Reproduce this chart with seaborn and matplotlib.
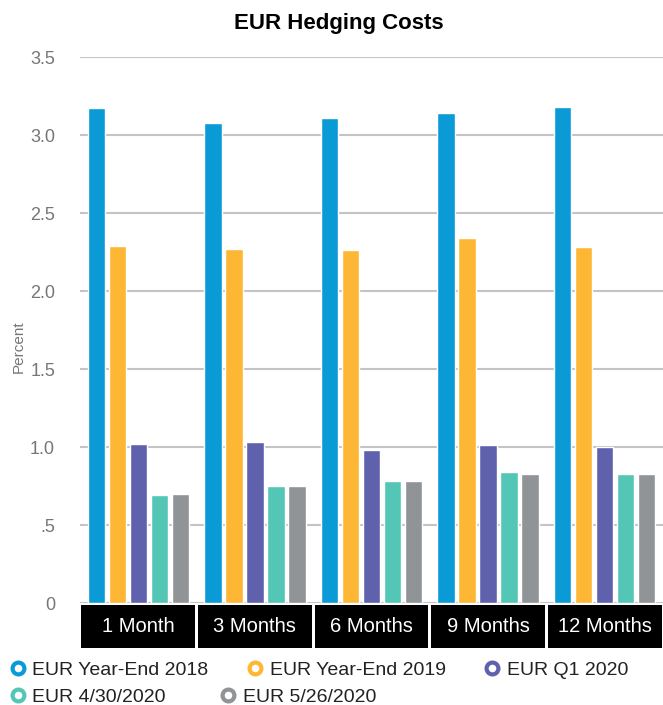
import matplotlib
matplotlib.use("Agg")
import matplotlib.pyplot as plt
from matplotlib.lines import Line2D
from matplotlib.patches import Rectangle
import seaborn as sns
import pandas as pd

categories = ["1 Month", "3 Months", "6 Months", "9 Months", "12 Months"]
series = ["EUR Year-End 2018", "EUR Year-End 2019", "EUR Q1 2020", "EUR 4/30/2020", "EUR 5/26/2020"]
ye2018 = [3.17, 3.08, 3.11, 3.14, 3.18]
ye2019 = [2.29, 2.27, 2.26, 2.34, 2.28]
q1_2020 = [1.02, 1.03, 0.98, 1.01, 1.00]
apr2020 = [0.69, 0.75, 0.78, 0.84, 0.83]
may2020 = [0.70, 0.75, 0.78, 0.83, 0.83]
colors = ["#0A9BD7", "#FDB735", "#5F61AD", "#54C6B5", "#909497"]
yticks = [0, 0.5, 1.0, 1.5, 2.0, 2.5, 3.0, 3.5]
yticklabels = ["0", ".5", "1.0", "1.5", "2.0", "2.5", "3.0", "3.5"]

rows = []
for s, vals in zip(series, [ye2018, ye2019, q1_2020, apr2020, may2020]):
    for c, v in zip(categories, vals):
        rows.append({"Tenor": c, "Series": s, "Value": v})
df = pd.DataFrame(rows)

sns.set_theme(style="white")
plt.rcParams["font.family"] = ["Liberation Sans", "DejaVu Sans"]

fig = plt.figure(figsize=(6.63, 7.05), dpi=100)
ax = fig.add_axes([80 / 663, 1 - 603 / 705, 1 - 80 / 663, (603 - 57) / 705])

sns.barplot(data=df, x="Tenor", y="Value", hue="Series", order=categories,
            hue_order=series, palette=colors, width=0.9, gap=0.17,
            saturation=1, ax=ax, legend=False, zorder=3)

ax.set_ylim(0, 3.5)
ax.set_xlim(-0.5, len(categories) - 0.5)
ax.set_yticks(yticks)
ax.set_yticklabels(yticklabels)
ax.yaxis.grid(True, color="#c4c4c4", linewidth=1.5, zorder=0)
ax.set_axisbelow(True)
for sp in ax.spines.values():
    sp.set_visible(False)
ax.tick_params(axis="y", length=0, pad=18, labelsize=13, labelcolor="#767676")
ax.tick_params(axis="x", length=0, labelbottom=False)
ax.set_xlabel("")
ax.set_ylabel("Percent", fontsize=11, color="#767676")
ax.yaxis.set_label_coords(-0.093, 0.47)

trans = ax.get_xaxis_transform()
h_ax = 603 - 57
for i, c in enumerate(categories):
    ax.add_patch(Rectangle((i - 0.5 + 0.012, -45 / h_ax), 1 - 0.024, 43 / h_ax,
                           transform=trans, facecolor="black", edgecolor="none",
                           clip_on=False, zorder=5))
    ax.text(i, -24 / h_ax, c, transform=trans, ha="center", va="center",
            color="white", fontsize=14.5, zorder=6, clip_on=False)

fig.text(339 / 663, 1 - 24 / 705, "EUR Hedging Costs",
         ha="center", va="center", fontsize=16, fontweight="bold", color="black")

handles = [Line2D([], [], linestyle="none", marker="o", markersize=8.5,
                  markerfacecolor="white", markeredgecolor=col, markeredgewidth=3)
           for col in colors]
common = dict(loc="center left", frameon=False, fontsize=14, handlelength=0.8,
              handletextpad=0.35, borderaxespad=0, borderpad=0.0)
leg1 = fig.legend(handles[:3], series[:3], bbox_to_anchor=(10 / 663, 1 - 670 / 705),
                  ncol=3, columnspacing=2.0, **common)
leg2 = fig.legend(handles[3:], series[3:], bbox_to_anchor=(10 / 663, 1 - 697 / 705),
                  ncol=2, columnspacing=2.8, **common)
for leg in (leg1, leg2):
    for t in leg.get_texts():
        t.set_color("#222222")

fig.savefig("out.png", dpi=100)
